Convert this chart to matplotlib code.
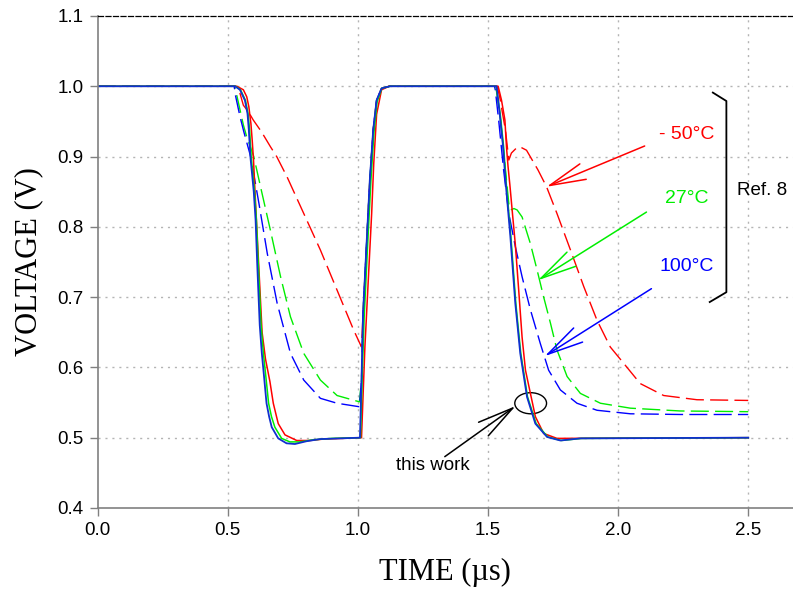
import matplotlib
matplotlib.use('Agg')
import matplotlib.pyplot as plt
from matplotlib.patches import Ellipse

# Transient response, this work (solid) vs Ref. 8 (dashed), three temperatures
t_red = [0, 0.535, 0.560, 0.573, 0.581, 0.589, 0.594, 0.599, 0.607, 0.620, 0.632, 0.645, 0.662,
         0.675, 0.694, 0.720, 0.765, 0.816, 0.867,
         1.014, 1.020, 1.027, 1.040, 1.053, 1.061, 1.072, 1.091, 1.12,
         1.539, 1.552, 1.565, 1.571, 1.577, 1.584, 1.595, 1.605, 1.618, 1.631, 1.644, 1.663, 1.682,
         1.714, 1.765, 2.5]
v_red = [1.0, 1.0, 0.995, 0.985, 0.971, 0.947, 0.923, 0.895, 0.833, 0.738, 0.650, 0.612, 0.580,
         0.549, 0.520, 0.504, 0.496, 0.496, 0.498,
         0.5, 0.56, 0.629, 0.724, 0.819, 0.890, 0.960, 0.995, 1.0,
         1.0, 0.980, 0.952, 0.914, 0.886, 0.860, 0.815, 0.775, 0.710, 0.643, 0.596, 0.563, 0.530,
         0.506, 0.499, 0.5]

t_green = [0, 0.530, 0.549, 0.568, 0.578, 0.584, 0.590, 0.603, 0.610, 0.617, 0.628, 0.637, 0.647,
           0.657, 0.668, 0.681, 0.707, 0.739, 0.777, 0.828, 0.900,
           1.010, 1.017, 1.024, 1.037, 1.050, 1.062, 1.074, 1.092, 1.123,
           1.531, 1.547, 1.560, 1.569, 1.588, 1.607, 1.626, 1.652, 1.685, 1.730, 1.782, 1.860, 2.5]
v_green = [1.0, 1.0, 0.995, 0.980, 0.961, 0.938, 0.900, 0.850, 0.810, 0.750, 0.660, 0.620, 0.585,
           0.549, 0.530, 0.515, 0.499, 0.494, 0.494, 0.497, 0.499,
           0.5, 0.59, 0.67, 0.77, 0.865, 0.935, 0.978, 0.997, 1.0,
           1.0, 0.961, 0.914, 0.867, 0.786, 0.691, 0.620, 0.558, 0.520, 0.501, 0.496, 0.499, 0.5]

t_blue = [0, 0.528, 0.547, 0.566, 0.576, 0.581, 0.587, 0.600, 0.607, 0.613, 0.623, 0.631, 0.640,
          0.649, 0.659, 0.669, 0.694, 0.726, 0.758, 0.803, 0.854, 0.931,
          1.008, 1.014, 1.020, 1.033, 1.046, 1.059, 1.072, 1.091, 1.123,
          1.533, 1.545, 1.558, 1.567, 1.586, 1.605, 1.624, 1.650, 1.682, 1.727, 1.778, 1.855, 2.5]
v_blue = [1.0, 1.0, 0.995, 0.980, 0.961, 0.938, 0.900, 0.850, 0.810, 0.750, 0.660, 0.620, 0.585,
          0.549, 0.530, 0.515, 0.499, 0.492, 0.491, 0.495, 0.498, 0.499,
          0.5, 0.582, 0.677, 0.772, 0.867, 0.938, 0.980, 0.997, 1.0,
          1.0, 0.961, 0.914, 0.867, 0.786, 0.691, 0.620, 0.558, 0.520, 0.501, 0.496, 0.499, 0.5]

# Ref. 8
t_ref_red = [0, 0.53, 0.547, 0.560, 0.579, 0.598, 0.630, 0.664, 0.688, 0.728, 0.792, 0.856, 0.920,
             0.984, 1.014, 1.020, 1.033, 1.046, 1.059, 1.072, 1.091, 1.12,
             1.535, 1.545, 1.556, 1.567, 1.580, 1.590, 1.609, 1.622, 1.648, 1.692, 1.725, 1.765,
             1.817, 1.868, 1.919, 1.970, 2.021, 2.085, 2.175, 2.303, 2.5]
v_ref_red = [1.0, 1.0, 0.990, 0.973, 0.964, 0.952, 0.935, 0.914, 0.900, 0.871, 0.819, 0.767, 0.710,
             0.653, 0.629, 0.677, 0.772, 0.867, 0.938, 0.980, 0.997, 1.0,
             1.0, 0.985, 0.961, 0.938, 0.895, 0.905, 0.912, 0.914, 0.909, 0.881, 0.857, 0.819,
             0.767, 0.715, 0.667, 0.629, 0.606, 0.577, 0.560, 0.554, 0.553]

t_ref_green = [0, 0.525, 0.536, 0.560, 0.573, 0.600, 0.626, 0.664, 0.703, 0.741, 0.792, 0.856, 0.920,
               1.006, 1.014, 1.020, 1.033, 1.046, 1.059, 1.072, 1.091, 1.123,
               1.53, 1.548, 1.567, 1.580, 1.586, 1.600, 1.612, 1.631, 1.663, 1.689, 1.714, 1.740,
               1.765, 1.804, 1.855, 1.932, 2.047, 2.239, 2.5]
v_ref_green = [1.0, 1.0, 0.985, 0.945, 0.928, 0.900, 0.857, 0.795, 0.729, 0.672, 0.620, 0.582, 0.560,
               0.551, 0.582, 0.677, 0.772, 0.867, 0.938, 0.980, 0.997, 1.0,
               1.0, 0.952, 0.881, 0.833, 0.824, 0.826, 0.824, 0.814, 0.776, 0.738, 0.700, 0.663,
               0.625, 0.587, 0.563, 0.549, 0.542, 0.538, 0.537]

t_ref_blue = [0, 0.525, 0.528, 0.547, 0.562, 0.588, 0.620, 0.652, 0.690, 0.741, 0.792, 0.856, 0.920,
              1.006, 1.014, 1.020, 1.033, 1.046, 1.059, 1.072, 1.091, 1.123,
              1.525, 1.528, 1.541, 1.560, 1.580, 1.605, 1.631, 1.663, 1.701, 1.733, 1.778, 1.842,
              1.919, 2.047, 2.239, 2.5]
v_ref_blue = [1.0, 1.0, 0.990, 0.957, 0.935, 0.900, 0.833, 0.762, 0.691, 0.620, 0.582, 0.556, 0.549,
              0.544, 0.582, 0.677, 0.772, 0.867, 0.938, 0.980, 0.997, 1.0,
              1.0, 0.995, 0.952, 0.881, 0.819, 0.772, 0.729, 0.682, 0.634, 0.596, 0.568, 0.549,
              0.539, 0.534, 0.533, 0.533]

temp_labels = ['- 50°C', '27°C', '100°C']

RED = '#ff0000'
GREEN = '#00ee00'
BLUE = '#0000ff'
BLUE_SOLID = '#1030d0'

fig = plt.figure(figsize=(7.93, 5.96), dpi=100)
ax = fig.add_axes([0.1231, 0.1477, 0.8769, 0.8255])

dash = (13, 4.5)
ax.plot(t_ref_red, v_ref_red, color=RED, lw=1.0, dashes=dash)
ax.plot(t_ref_green, v_ref_green, color=GREEN, lw=1.0, dashes=dash)
ax.plot(t_ref_blue, v_ref_blue, color=BLUE, lw=1.0, dashes=dash)
ax.plot(t_red, v_red, color=RED, lw=1.1)
ax.plot(t_green, v_green, color=GREEN, lw=1.1)
ax.plot(t_blue, v_blue, color=BLUE_SOLID, lw=1.3)

ax.set_xlim(0, 2.672)
ax.set_ylim(0.4, 1.1)
ax.set_xticks([0.0, 0.5, 1.0, 1.5, 2.0, 2.5])
ax.set_yticks([0.4, 0.5, 0.6, 0.7, 0.8, 0.9, 1.0, 1.1])
ax.xaxis.set_major_formatter(matplotlib.ticker.FormatStrFormatter('%.1f'))
ax.yaxis.set_major_formatter(matplotlib.ticker.FormatStrFormatter('%.1f'))
for lab in ax.get_xticklabels() + ax.get_yticklabels():
    lab.set_family('Liberation Sans')
    lab.set_fontsize(13.5)
ax.tick_params(direction='out', length=6, width=1, color='#808080', pad=4)

# dotted grid
for x in [0.5, 1.0, 1.5, 2.0, 2.5]:
    ax.axvline(x, color='#b4b4b4', lw=1, ls=(0, (1.5, 3.5)), zorder=0)
for y in [0.5, 0.6, 0.7, 0.8, 0.9, 1.0]:
    ax.axhline(y, color='#b4b4b4', lw=1, ls=(0, (1.5, 3.5)), zorder=0)

ax.spines['right'].set_visible(False)
ax.spines['left'].set_color('#808080')
ax.spines['bottom'].set_color('#808080')
ax.spines['left'].set_linewidth(1.2)
ax.spines['bottom'].set_linewidth(1.2)
ax.spines['top'].set_color('black')
ax.spines['top'].set_linestyle((0, (4, 2)))
ax.spines['top'].set_linewidth(0.9)

ax.set_xlabel('TIME (µs)', family='Liberation Serif', fontsize=22, labelpad=14)
ax.set_ylabel('VOLTAGE (V)', family='Liberation Serif', fontsize=22, labelpad=10)

# temperature labels with arrows onto the Ref. 8 curves
arrow_style = '->,head_length=2.6,head_width=0.6'
ann = [
    (temp_labels[0], RED, (2.262, 0.932), (2.102, 0.915), (1.725, 0.857)),
    (temp_labels[1], GREEN, (2.264, 0.840), (2.109, 0.821), (1.692, 0.724)),
    (temp_labels[2], BLUE, (2.264, 0.743), (2.128, 0.712), (1.718, 0.616)),
]
for txt, col, tpos, tail, tip in ann:
    ax.text(tpos[0], tpos[1], txt, color=col, fontsize=14, family='Liberation Sans',
            ha='center', va='center')
    ax.annotate('', xy=tip, xytext=tail,
                arrowprops=dict(arrowstyle=arrow_style, color=col, lw=1.1,
                                shrinkA=0, shrinkB=0, mutation_scale=10))

# bracket for Ref. 8
ax.plot([2.364, 2.416, 2.416, 2.352], [0.991, 0.979, 0.707, 0.693], color='black', lw=1.3,
        clip_on=False)
ax.text(2.455, 0.851, 'Ref. 8', fontsize=13.5, family='Liberation Sans', ha='left', va='center')

# this work marker
ax.add_patch(Ellipse((1.664, 0.549), 0.122, 0.030, fill=False, edgecolor='black', lw=1))
ax.annotate('', xy=(1.606, 0.545), xytext=(1.334, 0.473),
            arrowprops=dict(arrowstyle=arrow_style, color='black', lw=1.1,
                            shrinkA=0, shrinkB=0, mutation_scale=10))
ax.text(1.288, 0.461, 'this work', fontsize=13.5, family='Liberation Sans',
        ha='center', va='center')

plt.savefig('out.png', dpi=100)
plt.close()
